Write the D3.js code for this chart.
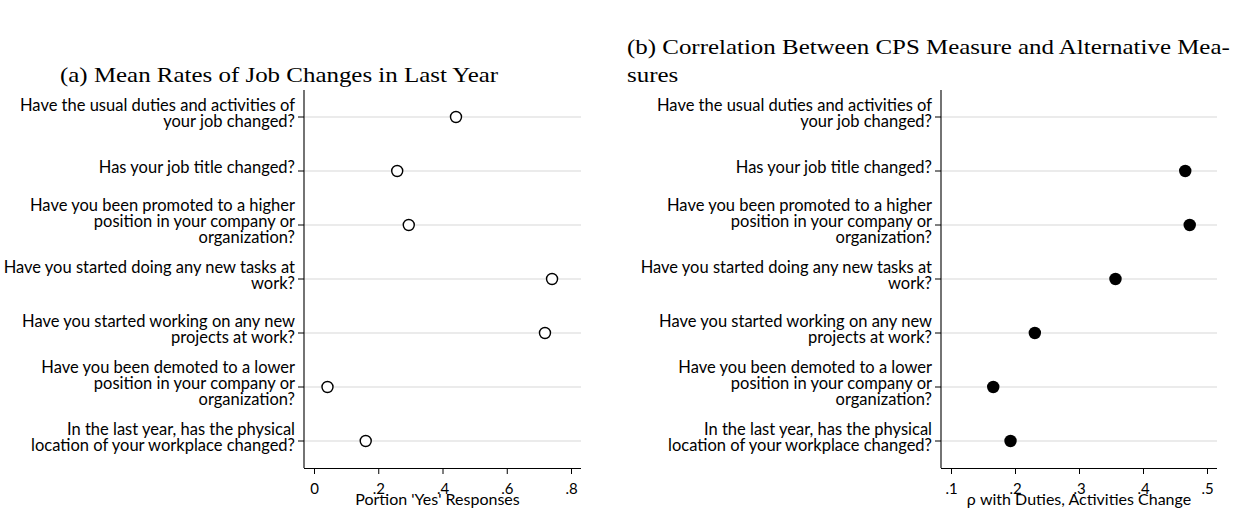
<!DOCTYPE html>
<html>
<head>
<meta charset="utf-8">
<script src="https://cdn.jsdelivr.net/npm/d3@7"></script>
<style>
  html, body { margin: 0; padding: 0; background: #fff; }
  svg { display: block; }
  .lab { font-family: Lato, "Open Sans", sans-serif; fill: #000; }
  .ttl { font-family: "Liberation Serif", "Times New Roman", serif; fill: #000; }
</style>
</head>
<body>
<svg id="chart" width="1247" height="513"></svg>
<script>
// Survey questions (one entry per line of the wrapped label)
const questions = [
  ["Have the usual duties and activities of", "your job changed?"],
  ["Has your job title changed?"],
  ["Have you been promoted to a higher", "position in your company or", "organization?"],
  ["Have you started doing any new tasks at", "work?"],
  ["Have you started working on any new", "projects at work?"],
  ["Have you been demoted to a lower", "position in your company or", "organization?"],
  ["In the last year, has the physical", "location of your workplace changed?"]
];

// Panel (a): share answering "yes"
const meanYes = [0.442, 0.259, 0.295, 0.741, 0.719, 0.042, 0.161];
// Panel (b): correlation with the duties/activities question (none for itself)
const rhoDuties = [null, 0.466, 0.473, 0.357, 0.231, 0.166, 0.193];

const ticksA = [0, 0.2, 0.4, 0.6, 0.8];
const ticksB = [0.1, 0.2, 0.3, 0.4, 0.5];

const titleA = ["(a) Mean Rates of Job Changes in Last Year"];
const titleB = ["(b) Correlation Between CPS Measure and Alternative Mea-", "sures"];
const axisTitleA = "Portion 'Yes' Responses";
const axisTitleB = "\u03c1 with Duties, Activities Change";

const svg = d3.select("#chart");
const stataNum = d => d3.format("")(+d.toFixed(2)).replace(/^0\./, ".").replace(/^-0\./, "-.");

const plotTop = 90, plotBottom = 468;
const fs = 16.5, lineH = 16;

function panel(cfg) {
  const g = svg.append("g");
  const x = d3.scaleLinear().domain(cfg.domain).range([cfg.left + 10, cfg.right - 10]);
  const y = d3.scaleBand().domain(d3.range(questions.length)).range([plotTop, plotBottom]);
  const yc = i => y(i) + y.bandwidth() / 2;

  // horizontal grid lines at each question
  g.selectAll("line.grid").data(questions).join("line")
    .attr("class", "grid")
    .attr("x1", cfg.left).attr("x2", cfg.right)
    .attr("y1", (d, i) => yc(i)).attr("y2", (d, i) => yc(i))
    .attr("stroke", "#e4e4e4").attr("stroke-width", 1.6);

  // y axis line and ticks
  g.append("line").attr("x1", cfg.left).attr("x2", cfg.left)
    .attr("y1", plotTop).attr("y2", plotBottom).attr("stroke", "#000").attr("stroke-width", 1.1);
  g.selectAll("line.ytick").data(questions).join("line")
    .attr("class", "ytick")
    .attr("x1", cfg.left - 6).attr("x2", cfg.left)
    .attr("y1", (d, i) => yc(i)).attr("y2", (d, i) => yc(i))
    .attr("stroke", "#000").attr("stroke-width", 1);

  // wrapped, right-aligned question labels
  const lab = g.selectAll("text.ylab").data(questions).join("text")
    .attr("class", "lab ylab")
    .attr("text-anchor", "end")
    .attr("font-size", fs);
  lab.each(function (lines, i) {
    const n = lines.length;
    d3.select(this).selectAll("tspan").data(lines).join("tspan")
      .attr("x", cfg.left - 9)
      .attr("y", (l, k) => yc(i) + (k - (n - 1) / 2) * lineH + 1.9)
      .text(l => l);
  });

  // x axis
  const xAxis = d3.axisBottom(x).tickValues(cfg.ticks).tickSize(6).tickPadding(9.3)
    .tickFormat(stataNum);
  const ax = g.append("g").attr("transform", `translate(0,${plotBottom})`).call(xAxis);
  ax.select(".domain").attr("d", `M${cfg.left},0.5H${cfg.right}`).attr("stroke-width", 1.1);
  ax.selectAll(".tick line").attr("stroke-width", 1);
  ax.selectAll(".tick text").attr("class", "lab").attr("font-size", 15)
    .attr("font-family", "Lato, sans-serif");

  g.append("text").attr("class", "lab")
    .attr("x", (cfg.left + cfg.right) / 2 + cfg.axisTitleShift).attr("y", 505)
    .attr("text-anchor", "middle").attr("font-size", 16)
    .text(cfg.axisTitle);

  // markers
  const pts = cfg.values.map((v, i) => ({ v, i })).filter(d => d.v !== null);
  g.selectAll("circle.pt").data(pts).join("circle")
    .attr("class", "pt")
    .attr("cx", d => x(d.v)).attr("cy", d => yc(d.i))
    .attr("r", cfg.filled ? 6.2 : 5.5)
    .attr("fill", cfg.filled ? "#000" : "#fff")
    .attr("stroke", "#000").attr("stroke-width", cfg.filled ? 0 : 1.4);

  // panel caption (serif, widened to a Computer-Modern-like set width)
  const t = g.append("text").attr("class", "ttl").attr("font-size", 21.5)
    .attr("transform", `translate(${cfg.titleX},${cfg.titleY}) scale(1.16,1)`);
  t.selectAll("tspan").data(cfg.title).join("tspan")
    .attr("x", 0)
    .attr("y", (d, k) => k * 28)
    .text(d => d);
}

panel({
  left: 304, right: 581, domain: [0, 0.8], ticks: ticksA, values: meanYes,
  filled: false, axisTitle: axisTitleA, axisTitleShift: -5,
  title: titleA, titleX: 60, titleY: 82
});
panel({
  left: 941, right: 1217, domain: [0.1, 0.5], ticks: ticksB, values: rhoDuties,
  filled: true, axisTitle: axisTitleB, axisTitleShift: 0,
  title: titleB, titleX: 627, titleY: 54
});
</script>
</body>
</html>
